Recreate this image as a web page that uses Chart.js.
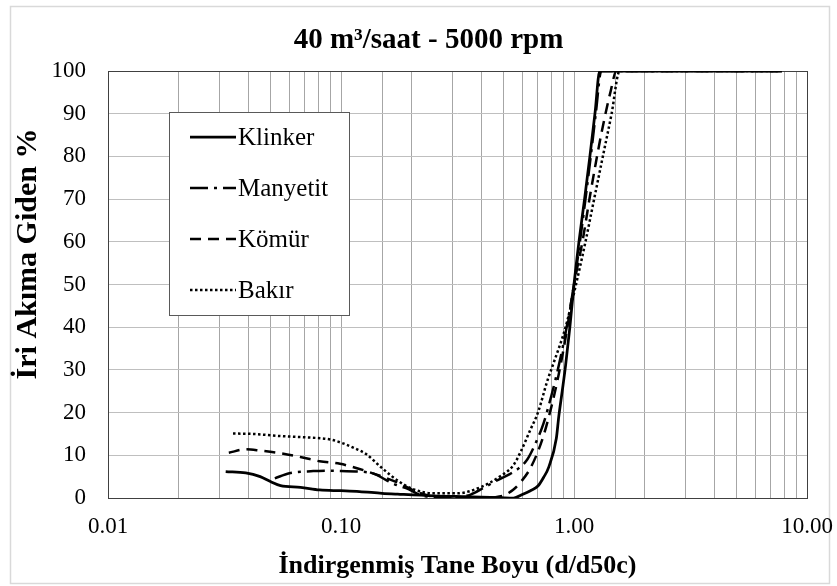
<!DOCTYPE html>
<html>
<head>
<meta charset="utf-8">
<script src="https://cdn.jsdelivr.net/npm/chart.js@4.4.1/dist/chart.umd.min.js"></script>
<style>
  body { margin: 0; background: #fff; }
</style>
</head>
<body>
<canvas id="graphs" width="837" height="586"></canvas>
<script>
// values (x = d/d50c, y = %)
const klinkerX = [0.032, 0.039, 0.045, 0.050, 0.055, 0.067, 0.081, 0.10, 0.12, 0.15, 0.175, 0.25, 0.35, 0.48, 0.55, 0.60, 0.65, 0.70, 0.74, 0.78, 0.84, 0.86, 0.89, 0.92, 0.96, 1.00, 1.05, 1.11, 1.17, 1.23, 1.29, 7.8];
const klinkerY = [6.2, 5.9, 5.0, 3.8, 2.9, 2.5, 1.9, 1.7, 1.5, 1.1, 0.9, 0.5, 0.3, 0.1, 0, 0.8, 1.7, 2.8, 4.8, 7.3, 14, 19, 25, 31, 40, 50, 60, 70, 80, 90, 100, 100];

const manyetitX = [0.052, 0.060, 0.076, 0.087, 0.10, 0.12, 0.14, 0.155, 0.17, 0.19, 0.23, 0.30, 0.36, 0.41, 0.47, 0.53, 0.58, 0.63, 0.68, 0.74, 0.80, 0.86, 0.93, 1.00, 1.06, 1.12, 1.18, 1.24, 1.31, 7.8];
const manyetitY = [4.6, 5.8, 6.3, 6.4, 6.3, 6.2, 5.6, 4.3, 3.2, 2.3, 0.4, 0.1, 0.8, 2.4, 4.2, 5.6, 7.0, 9.0, 12.5, 17.5, 24, 31, 40, 50, 60, 70, 80, 90, 100, 100];

const komurX = [0.033, 0.039, 0.045, 0.055, 0.067, 0.081, 0.099, 0.12, 0.147, 0.175, 0.21, 0.25, 0.30, 0.40, 0.46, 0.50, 0.55, 0.59, 0.65, 0.73, 0.80, 0.86, 0.93, 1.00, 1.09, 1.17, 1.24, 1.32, 1.44, 1.52, 7.8];
const komurY = [10.6, 11.4, 11.1, 10.5, 9.6, 8.6, 8.0, 6.8, 5.2, 3.6, 1.5, 0.3, 0.1, 0.1, 0.2, 0.6, 2.0, 3.7, 7.0, 13.6, 21.4, 29, 39, 50, 60.4, 70.6, 78.4, 86.2, 95.5, 100, 100];

const bakirX = [0.0344, 0.042, 0.055, 0.071, 0.090, 0.102, 0.115, 0.128, 0.15, 0.176, 0.205, 0.25, 0.315, 0.40, 0.48, 0.55, 0.59, 0.65, 0.70, 0.77, 0.81, 0.92, 1.02, 1.12, 1.22, 1.33, 1.45, 1.57, 7.8];
const bakirY = [15.1, 15.0, 14.5, 14.2, 13.7, 12.8, 11.6, 10.3, 7.0, 4.0, 2.0, 1.1, 1.1, 2.6, 5.0, 7.7, 10.8, 16, 20, 27.6, 31, 40, 50, 60, 70, 80, 90, 100, 100];

const seriesNames = ['Klinker', 'Manyetit', 'Kömür', 'Bakır'];
const seriesDash = [[], [18, 6, 3, 6], [11, 7], [2.5, 2.5]];
const yTitle = 'İri Akıma Giden %';

const SERIF = "'Liberation Serif', 'Times New Roman', serif";

function points(xs, ys) {
  return xs.map((x, i) => ({ x: x, y: ys[i] }));
}

const allData = [
  points(klinkerX, klinkerY),
  points(manyetitX, manyetitY),
  points(komurX, komurY),
  points(bakirX, bakirY)
];

// white page + light frame round the whole chart, dark frame round the plot
const frame = {
  id: 'frame',
  beforeDraw(chart) {
    const ctx = chart.ctx;
    ctx.save();
    ctx.fillStyle = '#fff';
    ctx.fillRect(0, 0, chart.width, chart.height);
    ctx.strokeStyle = '#d9d9d9';
    ctx.lineWidth = 1.5;
    ctx.strokeRect(10.5, 6.5, 819, 577);
    ctx.restore();
  },
  beforeDatasetsDraw(chart) {
    const a = chart.chartArea;
    const ctx = chart.ctx;
    ctx.save();
    ctx.strokeStyle = '#404040';
    ctx.lineWidth = 1;
    ctx.strokeRect(Math.round(a.left) + 0.5, Math.round(a.top) + 0.5,
      Math.round(a.right - a.left), Math.round(a.bottom - a.top));
    ctx.restore();
  },
  afterDraw(chart) {
    // y axis title sits a bit above the middle of the plot in the original
    const ctx = chart.ctx;
    ctx.save();
    ctx.translate(28, 254);
    ctx.rotate(-Math.PI / 2);
    ctx.font = 'bold 30px ' + SERIF;
    ctx.fillStyle = '#000';
    ctx.textAlign = 'center';
    ctx.textBaseline = 'middle';
    ctx.fillText(yTitle, 0, 0);
    ctx.restore();
  }
};

// legend box sitting inside the plot, like the original
const insideLegend = {
  id: 'insideLegend',
  afterDatasetsDraw(chart) {
    const ctx = chart.ctx;
    ctx.save();
    ctx.fillStyle = '#fff';
    ctx.fillRect(169.5, 112.5, 180, 203);
    ctx.strokeStyle = '#595959';
    ctx.lineWidth = 1;
    ctx.strokeRect(169.5, 112.5, 180, 203);
    ctx.font = '25px ' + SERIF;
    ctx.textBaseline = 'middle';
    chart.data.datasets.forEach((ds, i) => {
      const y = 137 + i * 51;
      ctx.beginPath();
      ctx.setLineDash(ds.borderDash);
      ctx.lineWidth = ds.borderWidth;
      ctx.strokeStyle = ds.borderColor;
      ctx.moveTo(190, y);
      ctx.lineTo(236, y);
      ctx.stroke();
      ctx.setLineDash([]);
      ctx.fillStyle = '#000';
      ctx.fillText(ds.label, 238, y + 1);
    });
    ctx.restore();
  }
};

let config = {
  type: 'line',
  data: {
    datasets: seriesNames.map((name, i) => ({
      label: name,
      data: allData[i],
      borderColor: '#000',
      borderWidth: i === 0 ? 2.75 : 2.5,
      borderDash: seriesDash[i],
      pointRadius: 0,
      fill: false,
      cubicInterpolationMode: 'monotone'
    }))
  },
  options: {
    responsive: false,
    animation: false,
    layout: { padding: { left: 20, right: 0, top: 0, bottom: 0 } },
    plugins: {
      legend: { display: false },
      tooltip: { enabled: false },
      title: {
        display: true,
        text: '40 m³/saat - 5000 rpm',
        color: '#000',
        font: { family: SERIF, size: 29, weight: 'bold', lineHeight: 1.2 },
        padding: { top: 23.6, bottom: 12.6 }
      }
    },
    scales: {
      x: {
        type: 'logarithmic',
        min: 0.01,
        max: 10,
        afterFit: function(scale) {
          scale.height = 88;
          scale.paddingRight = 30;
        },
        grid: { color: '#a6a6a6', drawTicks: false },
        border: { display: false },
        ticks: {
          autoSkip: false,
          maxRotation: 0,
          padding: 15,
          color: '#000',
          font: { family: SERIF, size: 23 },
          callback: function(value) {
            const e = Math.log10(value);
            return Math.abs(e - Math.round(e)) < 1e-6 ? Number(value).toFixed(2) : '';
          }
        },
        title: {
          display: true,
          text: 'İndirgenmiş Tane Boyu (d/d50c)',
          color: '#000',
          font: { family: SERIF, size: 26, weight: 'bold', lineHeight: 1.2 },
          padding: { top: 4, bottom: 4.4 }
        }
      },
      y: {
        min: 0,
        max: 100,
        afterFit: function(scale) { scale.width = 88; },
        grid: { color: '#bfbfbf', drawTicks: false },
        border: { display: false },
        ticks: {
          stepSize: 10,
          padding: 22,
          color: '#000',
          font: { family: SERIF, size: 23 }
        }
      }
    }
  },
  plugins: [frame, insideLegend]
};

window.onload = function() {
  let ctx = document.querySelector('#graphs').getContext('2d');
  window.myChart = new Chart(ctx, config);
};
</script>
</body>
</html>
